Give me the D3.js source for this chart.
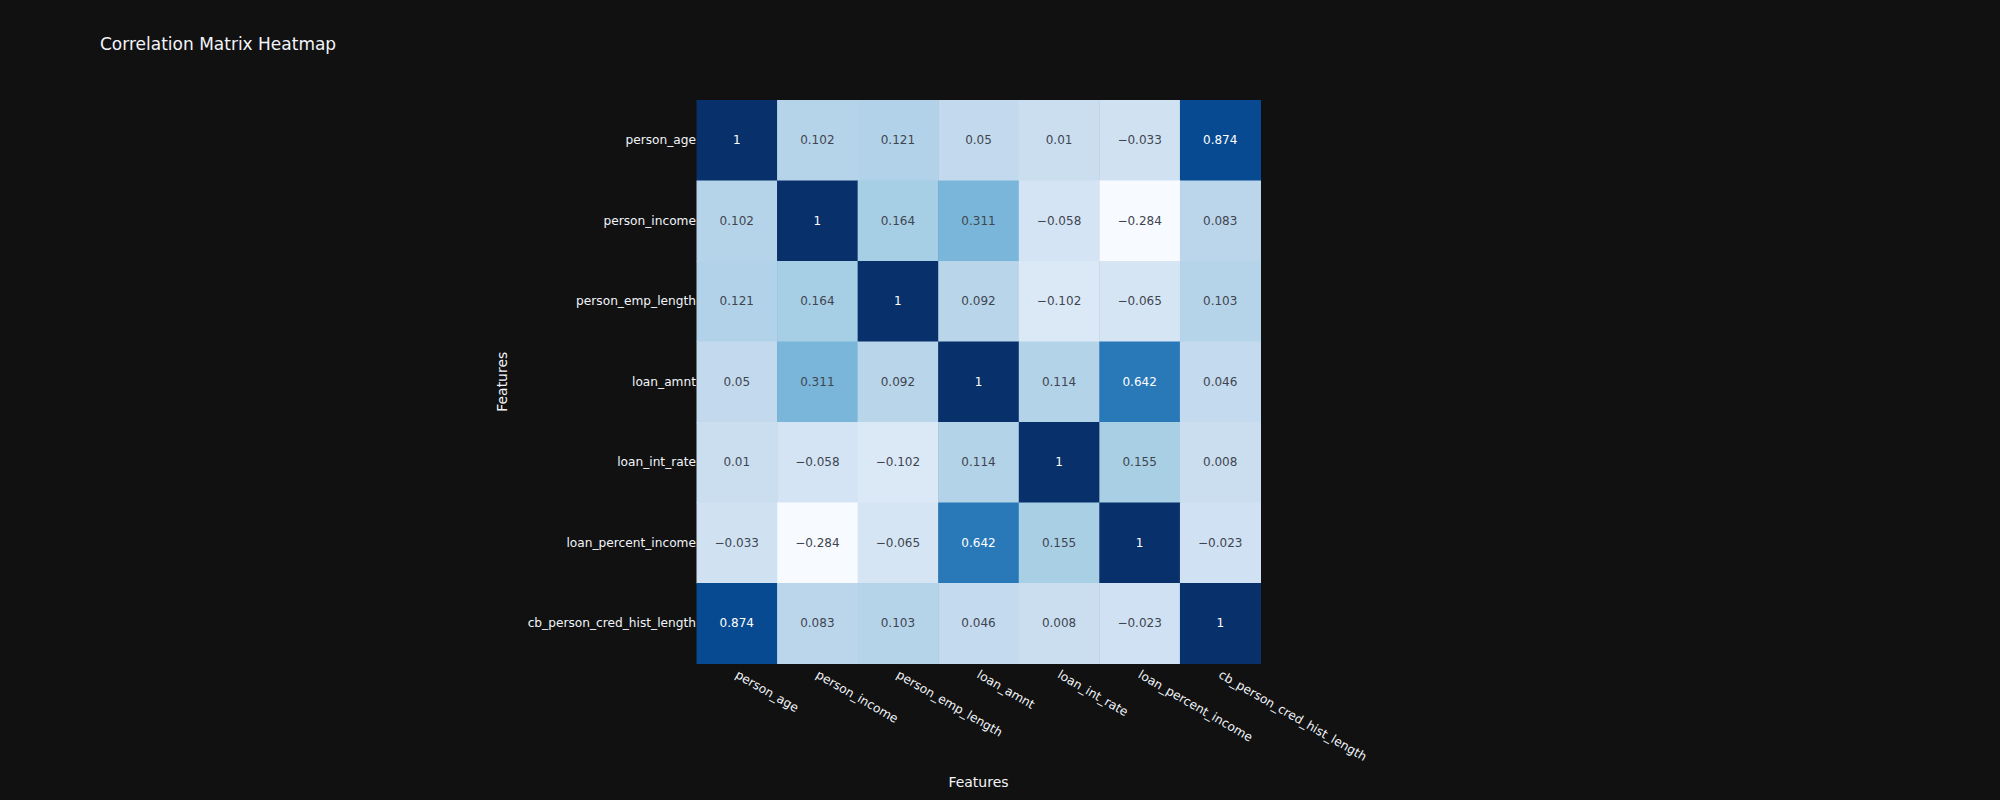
<!DOCTYPE html>
<html>
<head>
<meta charset="utf-8">
<script src="https://cdn.jsdelivr.net/npm/d3@7"></script>
<style>
  body { margin: 0; background: #111111; }
  svg { display: block; font-family: "DejaVu Sans", Verdana, sans-serif; }
</style>
</head>
<body>
<svg id="chart" width="2000" height="800"></svg>
<script>
// feature names, same order on both axes
var features = ["person_age", "person_income", "person_emp_length", "loan_amnt",
  "loan_int_rate", "loan_percent_income", "cb_person_cred_hist_length"];

// one array per row of the correlation matrix
var person_age = [1, 0.102, 0.121, 0.05, 0.01, -0.033, 0.874];
var person_income = [0.102, 1, 0.164, 0.311, -0.058, -0.284, 0.083];
var person_emp_length = [0.121, 0.164, 1, 0.092, -0.102, -0.065, 0.103];
var loan_amnt = [0.05, 0.311, 0.092, 1, 0.114, 0.642, 0.046];
var loan_int_rate = [0.01, -0.058, -0.102, 0.114, 1, 0.155, 0.008];
var loan_percent_income = [-0.033, -0.284, -0.065, 0.642, 0.155, 1, -0.023];
var cb_person_cred_hist_length = [0.874, 0.083, 0.103, 0.046, 0.008, -0.023, 1];

var rows = [person_age, person_income, person_emp_length, loan_amnt,
  loan_int_rate, loan_percent_income, cb_person_cred_hist_length];

var svg = d3.select("#chart");
var margin = {left: 696.5, top: 100};
var width = 564, height = 563.5;

svg.append("rect").attr("width", 2000).attr("height", 800).attr("fill", "#111111");

// title
svg.append("text")
  .attr("x", 100).attr("y", 50)
  .attr("fill", "#f2f5fa")
  .style("font-size", "17px")
  .text("Correlation Matrix Heatmap");

var x = d3.scaleBand().domain(features).range([0, width]);
var y = d3.scaleBand().domain(features).range([0, height]);

// plotly "Blues" colorscale
var blues = ["rgb(247,251,255)", "rgb(222,235,247)", "rgb(198,219,239)", "rgb(158,202,225)",
  "rgb(107,174,214)", "rgb(66,146,198)", "rgb(33,113,181)", "rgb(8,81,156)", "rgb(8,48,107)"];
var allVals = d3.merge(rows);
var vmin = d3.min(allVals), vmax = d3.max(allVals);
var color = d3.scaleLinear()
  .domain(d3.range(blues.length).map(function(i) { return vmin + (vmax - vmin) * i / (blues.length - 1); }))
  .range(blues)
  .interpolate(d3.interpolateRgb);

var cells = [];
rows.forEach(function(r, i) {
  r.forEach(function(v, j) {
    cells.push({row: features[i], col: features[j], value: v});
  });
});

var g = svg.append("g").attr("transform", "translate(" + margin.left + "," + margin.top + ")");

g.selectAll(".cell")
  .data(cells)
  .enter()
  .append("rect")
  .attr("class", "cell")
  .attr("x", d => x(d.col))
  .attr("y", d => y(d.row))
  .attr("width", x.bandwidth() + 0.5)
  .attr("height", y.bandwidth() + 0.5)
  .attr("fill", d => color(d.value));

function textColor(v) {
  var c = d3.rgb(color(v));
  var lum = (0.299 * c.r + 0.587 * c.g + 0.114 * c.b) / 255;
  return lum < 0.5 ? "#ffffff" : "#3f4550";
}

var fmt = d3.format("");
g.selectAll(".val")
  .data(cells)
  .enter()
  .append("text")
  .attr("class", "val")
  .attr("x", d => x(d.col) + x.bandwidth() / 2)
  .attr("y", d => y(d.row) + y.bandwidth() / 2)
  .attr("text-anchor", "middle")
  .attr("dominant-baseline", "central")
  .attr("fill", d => textColor(d.value))
  .style("font-size", "12px")
  .text(d => fmt(d.value).replace("-", "\u2212"));

// y axis labels
var yAxis = g.append("g").call(d3.axisLeft(y).tickSize(0).tickPadding(0.5));
yAxis.select(".domain").remove();
yAxis.selectAll("text")
  .attr("fill", "#f2f5fa")
  .style("font-size", "12.2px")
  .style("font-family", "DejaVu Sans, Verdana, sans-serif");

// x axis labels, rotated 30 degrees
var xAxis = g.append("g").attr("transform", "translate(0," + height + ")")
  .call(d3.axisBottom(x).tickSize(0));
xAxis.select(".domain").remove();
xAxis.selectAll("text")
  .attr("fill", "#f2f5fa")
  .style("font-size", "12.2px")
  .style("font-family", "DejaVu Sans, Verdana, sans-serif")
  .attr("text-anchor", "start")
  .attr("dy", null)
  .attr("y", 0)
  .attr("transform", "translate(2,6) rotate(30)")
  .attr("dominant-baseline", "hanging");

// axis titles
svg.append("text")
  .attr("x", margin.left + width / 2)
  .attr("y", 787)
  .attr("text-anchor", "middle")
  .attr("fill", "#f2f5fa")
  .style("font-size", "14px")
  .text("Features");

svg.append("text")
  .attr("transform", "translate(507," + (margin.top + height / 2) + ") rotate(-90)")
  .attr("text-anchor", "middle")
  .attr("fill", "#f2f5fa")
  .style("font-size", "14px")
  .text("Features");
</script>
</body>
</html>
